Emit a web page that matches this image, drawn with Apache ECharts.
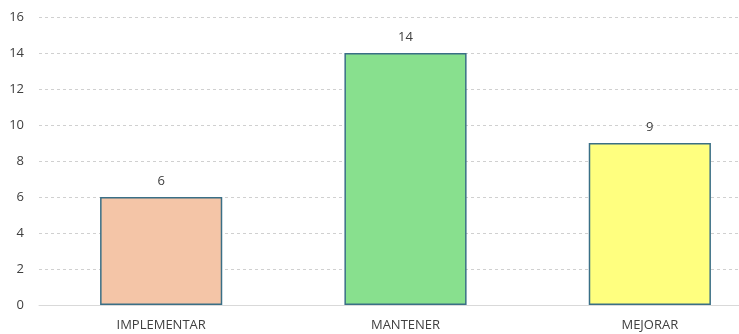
<!DOCTYPE html>
<html><head><meta charset="utf-8">
<script src="https://cdn.jsdelivr.net/npm/echarts@6/dist/echarts.min.js"></script>
<style>html,body{margin:0;padding:0;background:#fff}#c{width:739px;height:334px}</style>
</head><body><div id="c"></div>
<script>
const categories = ['IMPLEMENTAR', 'MANTENER', 'MEJORAR'];
const values = [6, 14, 9];
const barColors = ['#F4C5A7', '#88E08E', '#FFFF7F'];

const chart = echarts.init(document.getElementById('c'), null, {renderer: 'canvas'});
chart.setOption({
  animation: false,
  grid: {left: 39, right: -33, top: 17, bottom: 29, containLabel: false, outerBoundsMode: 'none'},
  xAxis: {
    type: 'category', data: categories,
    axisLine: {lineStyle: {color: '#D9D9D9', width: 1}},
    axisTick: {show: false},
    axisLabel: {color: '#404040', fontFamily: 'Open Sans', fontSize: 13, margin: 14}
  },
  yAxis: {
    type: 'value', min: 0, max: 16, interval: 2,
    axisLine: {show: false}, axisTick: {show: false},
    axisLabel: {color: '#404040', fontFamily: 'Open Sans', fontSize: 13, margin: 15},
    splitLine: {lineStyle: {color: '#D0D0D0', type: [3, 3], width: 1}}
  },
  series: [{
    type: 'bar', barWidth: '50%',
    data: values.map((v, i) => ({value: v, itemStyle: {color: barColors[i]}})),
    itemStyle: {borderColor: '#3A6F86', borderWidth: 1.5},
    label: {show: true, position: 'top', distance: 9, color: '#404040', fontFamily: 'Open Sans', fontSize: 13}
  }]
});
</script></body></html>
